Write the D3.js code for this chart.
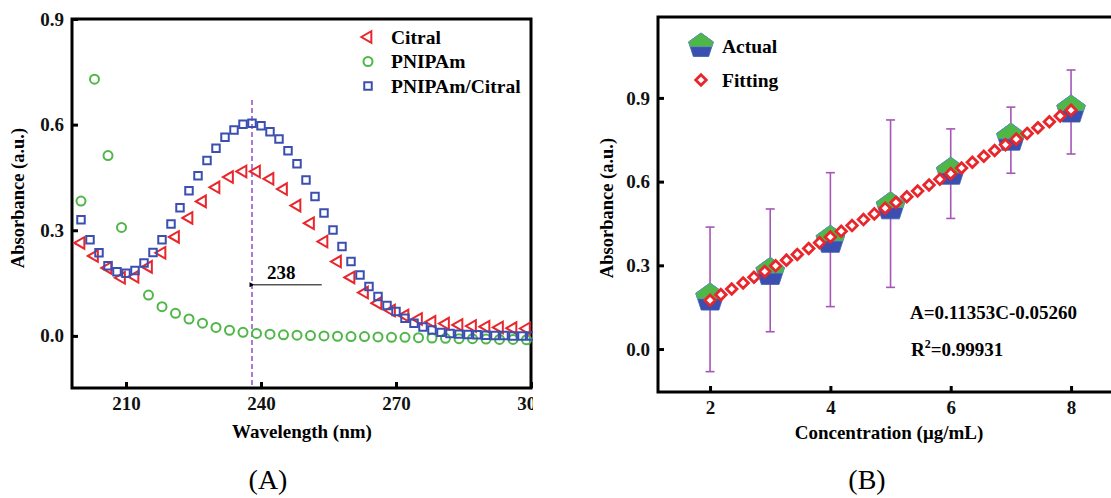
<!DOCTYPE html>
<html lang="en">
<head>
<meta charset="UTF-8">
<script src="https://d3js.org/d3.v7.min.js"></script>
<style>
  body { margin: 0; background: #fff; }
  svg text { font-family: "Liberation Serif", "Times New Roman", serif; }
</style>
</head>
<body>
<svg id="chart" width="1111" height="498"></svg>
<script>
// ---- panel A data (UV spectra) ----
const citralNm = [200,203,206,209,212,215,218,221,224,227,230,233,236,239,242,245,248,251,254,257,260,263,266,269,272,275,278,281,284,287,290,293,296,299];
const citralAbs = [0.264,0.227,0.193,0.165,0.168,0.196,0.236,0.281,0.335,0.382,0.422,0.451,0.467,0.467,0.446,0.417,0.370,0.320,0.268,0.211,0.166,0.123,0.093,0.072,0.058,0.048,0.040,0.035,0.031,0.028,0.026,0.024,0.022,0.021];

const pnipamNm = [200,203,206,209,215,218,221,224,227,230,233,236,239,242,245,248,251,254,257,260,263,266,269,272,275,278,281,284,287,290,293,296,299];
const pnipamAbs = [0.383,0.729,0.512,0.308,0.116,0.083,0.064,0.048,0.036,0.024,0.016,0.010,0.007,0.005,0.003,0.002,0.001,0.000,-0.001,-0.002,-0.002,-0.003,-0.004,-0.004,-0.005,-0.006,-0.007,-0.008,-0.008,-0.009,-0.010,-0.010,-0.011];

const mixNm = [200,202,204,206,208,210,212,214,216,218,220,222,224,226,228,230,232,234,236,238,240,242,244,246,248,250,252,254,256,258,260,262,264,266,268,270,272,274,276,278,280,282,284,286,288,290,292,294,296,298,300];
const mixAbs = [0.330,0.273,0.236,0.199,0.182,0.178,0.186,0.207,0.237,0.273,0.318,0.364,0.412,0.455,0.498,0.533,0.564,0.585,0.601,0.604,0.597,0.580,0.559,0.526,0.489,0.443,0.396,0.349,0.301,0.254,0.211,0.173,0.140,0.112,0.086,0.069,0.050,0.036,0.025,0.017,0.010,0.007,0.005,0.004,0.003,0.002,0.001,0.001,0.000,0.000,0.000];

const peakNm = 238;
const xTicksA = [210, 240, 270, 300];
const yTicks = [0.0, 0.3, 0.6, 0.9];

// ---- panel B data (calibration) ----
const conc = [2, 3, 4, 5, 6, 7, 8];
const actual = [0.183, 0.275, 0.390, 0.510, 0.634, 0.756, 0.857];
const errLow = [-0.081, 0.062, 0.152, 0.221, 0.468, 0.630, 0.699];
const errHigh = [0.437, 0.502, 0.632, 0.821, 0.789, 0.867, 1.000];

const fitC = [2.00,2.18,2.36,2.55,2.73,2.91,3.09,3.27,3.45,3.64,3.82,4.00,4.18,4.36,4.55,4.73,4.91,5.09,5.27,5.45,5.64,5.82,6.00,6.18,6.36,6.55,6.73,6.91,7.09,7.27,7.45,7.64,7.82,8.00];
const fitA = [0.1745,0.1949,0.2153,0.2369,0.2573,0.2778,0.2982,0.3186,0.3391,0.3606,0.3811,0.4015,0.4220,0.4424,0.4640,0.4844,0.5048,0.5253,0.5457,0.5661,0.5877,0.6082,0.6286,0.6490,0.6695,0.6910,0.7115,0.7319,0.7523,0.7728,0.7932,0.8148,0.8352,0.8556];
const xTicksB = [2, 4, 6, 8];

const RED = "#e8262b", GREEN = "#4fb748", BLUE = "#3a4fb0", PURPLE = "#a556b8";

const svg = d3.select("#chart");

function frameAndAxes(g, x, y, xt, yt, fmtX) {
    const [x0, x1] = x.range(), [y0, y1] = y.range();
    g.append("g")
        .attr("transform", "translate(0," + y0 + ")")
        .call(d3.axisBottom(x).tickValues(xt).tickSize(-6).tickPadding(9).tickFormat(fmtX))
        .call(a => a.select(".domain").remove());
    g.append("g")
        .attr("transform", "translate(" + x0 + ",0)")
        .call(d3.axisLeft(y).tickValues(yt).tickSize(-6).tickPadding(8).tickFormat(d3.format(".1f")))
        .call(a => a.select(".domain").remove());
    g.selectAll(".tick line").attr("stroke", "#000").attr("stroke-width", 3);
    g.selectAll(".tick text").attr("font-size", 19).attr("font-weight", "bold")
        .attr("fill", "#111").style("font-family", '"Liberation Serif", serif');
    g.append("rect")
        .attr("x", x0).attr("y", y1).attr("width", x1 - x0).attr("height", y0 - y1)
        .attr("fill", "none").attr("stroke", "#000").attr("stroke-width", 3);
}

// ================= Panel A =================
svg.append("clipPath").attr("id", "clipA")
    .append("rect").attr("x", 0).attr("y", 0).attr("width", 533).attr("height", 498);
const gA = svg.append("g").attr("clip-path", "url(#clipA)");

const xA = d3.scaleLinear().domain([198, 300]).range([72, 531]);
const yA = d3.scaleLinear().domain([-0.148, 0.9]).range([388, 19]);

frameAndAxes(gA, xA, yA, xTicksA, yTicks, d3.format("d"));

// dashed peak line
gA.append("line")
    .attr("x1", xA(peakNm)).attr("x2", xA(peakNm))
    .attr("y1", yA(0.67)).attr("y2", yA(-0.148))
    .attr("stroke", "#8f4fc8").attr("stroke-width", 1.5).attr("stroke-dasharray", "5,3");

const triangle = d3.symbol().type(d3.symbolTriangle).size(58);
const square = d3.symbol().type(d3.symbolSquare).size(56);

gA.append("g").selectAll("path")
    .data(citralNm.map((d, i) => [d, citralAbs[i]]))
    .join("path")
    .attr("d", triangle)
    .attr("transform", d => "translate(" + xA(d[0]) + "," + yA(d[1]) + ") rotate(-90)")
    .attr("fill", "none").attr("stroke", RED).attr("stroke-width", 2);

gA.append("g").selectAll("circle")
    .data(pnipamNm.map((d, i) => [d, pnipamAbs[i]]))
    .join("circle")
    .attr("cx", d => xA(d[0])).attr("cy", d => yA(d[1])).attr("r", 4.5)
    .attr("fill", "none").attr("stroke", GREEN).attr("stroke-width", 2);

gA.append("g").selectAll("path")
    .data(mixNm.map((d, i) => [d, mixAbs[i]]))
    .join("path")
    .attr("d", square)
    .attr("transform", d => "translate(" + xA(d[0]) + "," + yA(d[1]) + ")")
    .attr("fill", "none").attr("stroke", BLUE).attr("stroke-width", 2);

// arrow + label
svg.append("defs").append("marker")
    .attr("id", "arrowhead").attr("viewBox", "0 0 10 10")
    .attr("refX", 1).attr("refY", 5).attr("markerWidth", 8).attr("markerHeight", 5)
    .attr("markerUnits", "userSpaceOnUse")
    .attr("orient", "auto-start-reverse")
    .append("path").attr("d", "M10,0 L0,5 L10,10 z").attr("fill", "#000");
gA.append("line")
    .attr("x1", xA(253.5)).attr("x2", xA(peakNm) + 2)
    .attr("y1", yA(0.145)).attr("y2", yA(0.145))
    .attr("stroke", "#000").attr("stroke-width", 1)
    .attr("marker-end", "url(#arrowhead)");
gA.append("text")
    .attr("x", xA(244.5)).attr("y", yA(0.161))
    .attr("text-anchor", "middle").attr("font-size", 19).attr("font-weight", "bold")
    .text(peakNm);

// legend A
const legA = [
    {name: "Citral", type: "tri"},
    {name: "PNIPAm", type: "circ"},
    {name: "PNIPAm/Citral", type: "sq"}
];
legA.forEach((d, i) => {
    const cy = 37 + i * 24.5;
    if (d.type === "tri") {
        gA.append("path").attr("d", triangle)
            .attr("transform", "translate(368," + cy + ") rotate(-90)")
            .attr("fill", "none").attr("stroke", RED).attr("stroke-width", 2);
    } else if (d.type === "circ") {
        gA.append("circle").attr("cx", 368).attr("cy", cy).attr("r", 4.5)
            .attr("fill", "none").attr("stroke", GREEN).attr("stroke-width", 2);
    } else {
        gA.append("path").attr("d", square)
            .attr("transform", "translate(368," + cy + ")")
            .attr("fill", "none").attr("stroke", BLUE).attr("stroke-width", 2);
    }
    gA.append("text").attr("x", 391).attr("y", cy + 6.5)
        .attr("font-size", 19.5).attr("font-weight", "bold").text(d.name);
});

// axis titles A
svg.append("text")
    .attr("transform", "translate(24," + 198 + ") rotate(-90)")
    .attr("text-anchor", "middle").attr("font-size", 18.5).attr("font-weight", "bold")
    .text("Absorbance (a.u.)");
svg.append("text")
    .attr("x", 302).attr("y", 438)
    .attr("text-anchor", "middle").attr("font-size", 19).attr("font-weight", "bold")
    .text("Wavelength (nm)");
svg.append("text")
    .attr("x", 268).attr("y", 489)
    .attr("text-anchor", "middle").attr("font-size", 28)
    .text("(A)");

// ================= Panel B =================
const gB = svg.append("g");
const xB = d3.scaleLinear().domain([1.135, 8.88]).range([658, 1124]);
const yB = d3.scaleLinear().domain([-0.154, 1.19]).range([392, 17]);

frameAndAxes(gB, xB, yB, xTicksB, yTicks, d3.format("d"));

// error bars
const eb = gB.append("g").attr("stroke", PURPLE).attr("stroke-width", 1.6);
conc.forEach((c, i) => {
    const x = xB(c);
    eb.append("line").attr("x1", x).attr("x2", x).attr("y1", yB(errLow[i])).attr("y2", yB(errHigh[i]));
    eb.append("line").attr("x1", x - 4.5).attr("x2", x + 4.5).attr("y1", yB(errLow[i])).attr("y2", yB(errLow[i]));
    eb.append("line").attr("x1", x - 4.5).attr("x2", x + 4.5).attr("y1", yB(errHigh[i])).attr("y2", yB(errHigh[i]));
});

// split pentagon: green top, blue bottom
function pentagon(g, cx, cy, R) {
    const pts = d3.range(5).map(k => {
        const a = (-90 + 72 * k) * Math.PI / 180;
        return [cx + R * Math.cos(a), cy + R * Math.sin(a)];
    });
    const split = cy + R * 0.05;
    g.append("path").attr("d", "M" + pts.join("L") + "Z").attr("fill", BLUE).attr("stroke", "#3a5fb0").attr("stroke-width", 0.8);
    const [top, r1, r2, l2, l1] = pts;
    const interp = (p, q) => {
        const t = (split - p[1]) / (q[1] - p[1]);
        return [p[0] + t * (q[0] - p[0]), split];
    };
    const topPoly = [top, r1, interp(r1, r2), interp(l1, l2), l1];
    g.append("path").attr("d", "M" + topPoly.join("L") + "Z").attr("fill", GREEN).attr("stroke", "#5a9bb0").attr("stroke-width", 0.8);
}

const gP = gB.append("g");
conc.forEach((c, i) => pentagon(gP, xB(c), yB(actual[i]), 15));

// fitting diamonds (square turned 45 degrees)
const diamondPath = "M0,-5.3L5.3,0L0,5.3L-5.3,0Z";
gB.append("g").selectAll("path")
    .data(fitC.map((c, i) => [c, fitA[i]]))
    .join("path")
    .attr("d", diamondPath)
    .attr("transform", d => "translate(" + xB(d[0]) + "," + yB(d[1]) + ")")
    .attr("fill", "#fff").attr("stroke", RED).attr("stroke-width", 2.8);

// legend B
pentagon(gB, 701, 46, 13);
gB.append("text").attr("x", 722).attr("y", 53).attr("font-size", 19.5).attr("font-weight", "bold").text("Actual");
gB.append("path").attr("d", diamondPath).attr("transform", "translate(701,80)")
    .attr("fill", "#fff").attr("stroke", RED).attr("stroke-width", 2.8);
gB.append("text").attr("x", 722).attr("y", 86.5).attr("font-size", 19.5).attr("font-weight", "bold").text("Fitting");

// equation
gB.append("text").attr("x", 910).attr("y", 319).attr("font-size", 19).attr("font-weight", "bold")
    .text("A=0.11353C-0.05260");
const r2 = gB.append("text").attr("x", 911).attr("y", 356).attr("font-size", 19).attr("font-weight", "bold");
r2.append("tspan").text("R");
r2.append("tspan").attr("font-size", 12).attr("dy", -8).text("2");
r2.append("tspan").attr("dy", 8).text("=0.99931");

// axis titles B
svg.append("text")
    .attr("transform", "translate(613," + 208 + ") rotate(-90)")
    .attr("text-anchor", "middle").attr("font-size", 18.5).attr("font-weight", "bold")
    .text("Absorbance (a.u.)");
svg.append("text")
    .attr("x", 889).attr("y", 439)
    .attr("text-anchor", "middle").attr("font-size", 19).attr("font-weight", "bold")
    .text("Concentration (μg/mL)");
svg.append("text")
    .attr("x", 867).attr("y", 489)
    .attr("text-anchor", "middle").attr("font-size", 28)
    .text("(B)");
</script>
</body>
</html>
